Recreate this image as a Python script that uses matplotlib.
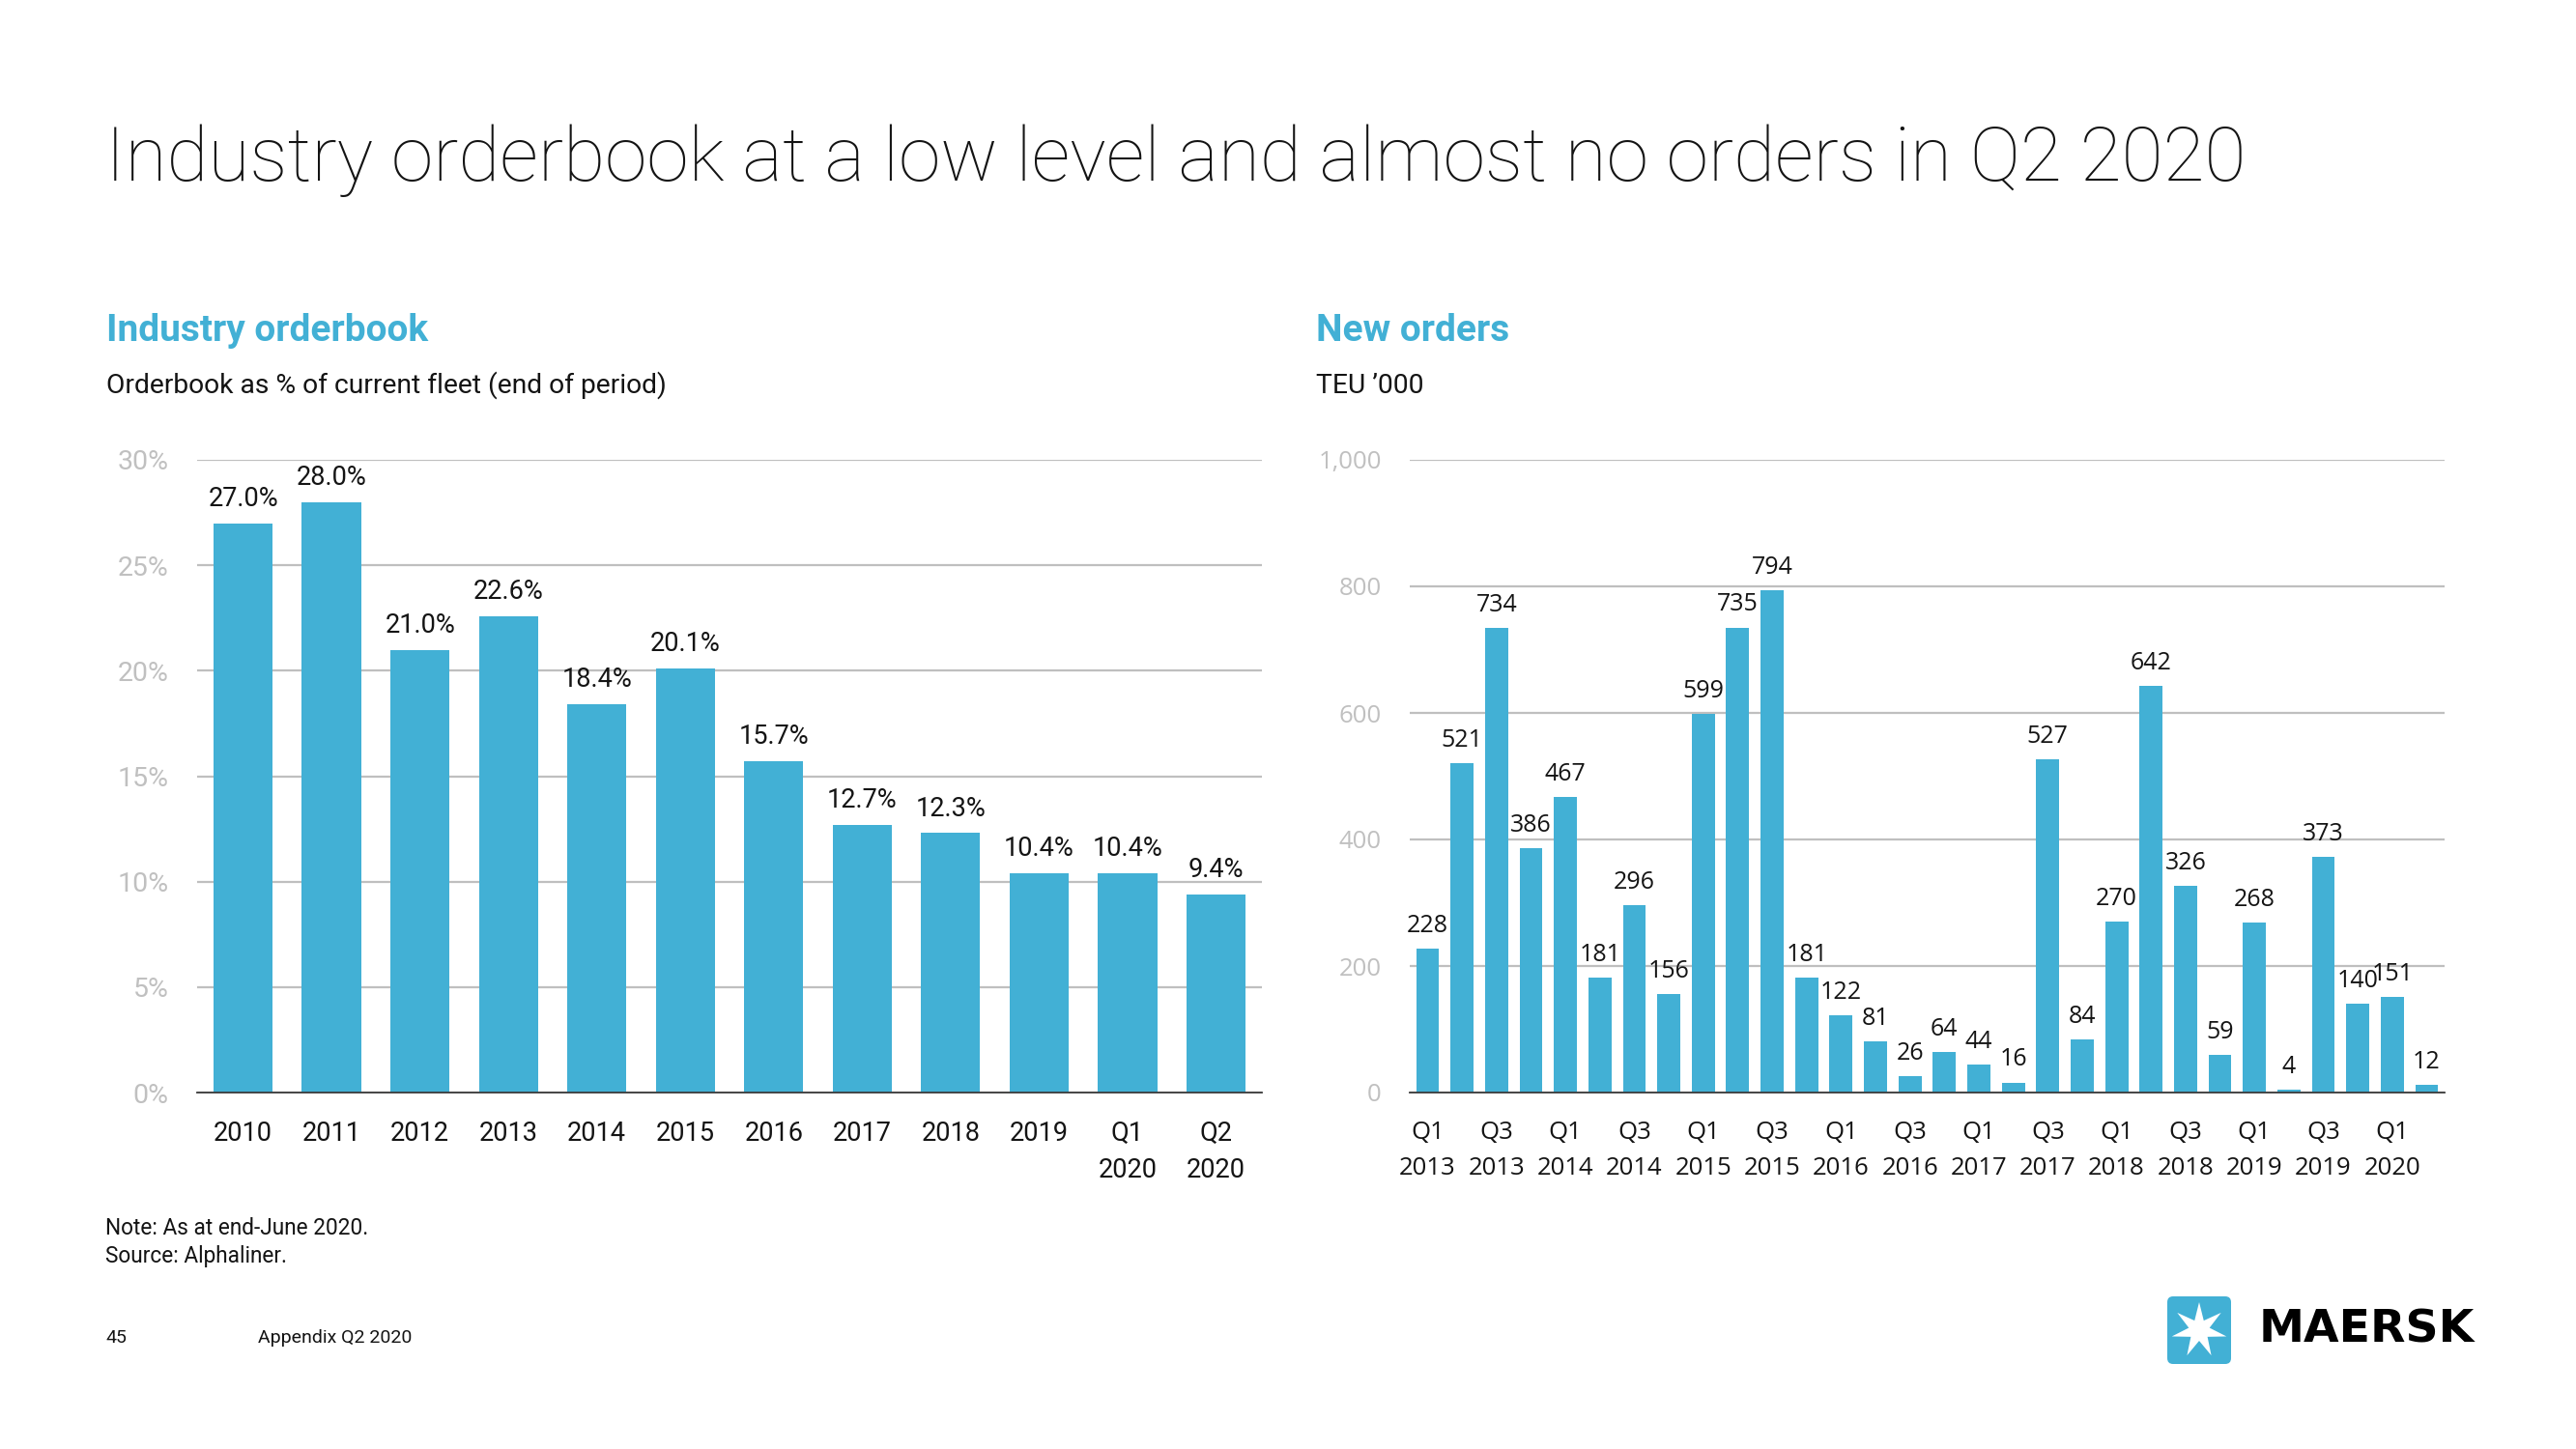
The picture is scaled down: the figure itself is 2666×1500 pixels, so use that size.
import numpy as np
import matplotlib.pyplot as plt
from matplotlib.patches import FancyBboxPatch, Polygon

# Left chart: industry orderbook, % of current fleet (end of period)
periods = ['2010', '2011', '2012', '2013', '2014', '2015', '2016', '2017',
           '2018', '2019', 'Q1\n2020', 'Q2\n2020']
orderbook_pct = [27.0, 28.0, 21.0, 22.6, 18.4, 20.1, 15.7, 12.7, 12.3, 10.4, 10.4, 9.4]
pct_ticks = [0, 5, 10, 15, 20, 25, 30]
pct_tick_labels = ['0%', '5%', '10%', '15%', '20%', '25%', '30%']

# Right chart: new orders, TEU '000 per quarter (Q1 2013 .. Q2 2020)
new_orders = [228, 521, 734, 386, 467, 181, 296, 156, 599, 735, 794, 181, 122, 81,
              26, 64, 44, 16, 527, 84, 270, 642, 326, 59, 268, 4, 373, 140, 151, 12]
quarter_labels = ['Q1\n2013', 'Q3\n2013', 'Q1\n2014', 'Q3\n2014', 'Q1\n2015',
                  'Q3\n2015', 'Q1\n2016', 'Q3\n2016', 'Q1\n2017', 'Q3\n2017',
                  'Q1\n2018', 'Q3\n2018', 'Q1\n2019', 'Q3\n2019', 'Q1\n2020']
teu_ticks = [0, 200, 400, 600, 800, 1000]
teu_tick_labels = ['0', '200', '400', '600', '800', '1,000']

BLUE = '#42B0D5'
DARK = '#141414'
GRID = '#BFBFBF'
TICKGREY = '#C0C0C0'
TXT = 'Roboto'
NUM = 'Open Sans'

fig = plt.figure(figsize=(26.66, 15), dpi=100)
fig.patch.set_facecolor('white')

W, H = 2666, 1500


def fx(px):
    return px / W


def fy(py):
    return 1 - py / H


# Titles
fig.text(fx(109), fy(187), 'Industry orderbook at a low level and almost no orders in Q2 2020',
         fontsize=56.5, color=DARK, family=TXT, weight='light', va='baseline')
fig.text(fx(110), fy(353), 'Industry orderbook', fontsize=28, color=BLUE,
         family=TXT, weight='bold', va='baseline')
fig.text(fx(110), fy(407), 'Orderbook as % of current fleet (end of period)',
         fontsize=20.3, color=DARK, family=TXT, va='baseline')
fig.text(fx(1362), fy(353), 'New orders', fontsize=28, color=BLUE,
         family=TXT, weight='bold', va='baseline')
fig.text(fx(1362), fy(407), 'TEU \u2019000', fontsize=20.3, color=DARK,
         family=TXT, va='baseline')

ax1 = fig.add_axes([fx(204), fy(1131), fx(1306 - 204), (1131 - 476) / H])
ax2 = fig.add_axes([fx(1459), fy(1131), fx(2530 - 1459), (1131 - 476) / H])


def style(ax):
    for s in ('top', 'right', 'left'):
        ax.spines[s].set_visible(False)
    ax.spines['bottom'].set_color('#3A3A3A')
    ax.spines['bottom'].set_linewidth(1.3)
    ax.spines['bottom'].set_zorder(4)
    ax.grid(axis='y', color=GRID, linewidth=1.6, zorder=0)
    ax.set_axisbelow(True)
    ax.tick_params(axis='both', length=0)
    ax.tick_params(axis='y', pad=21, labelcolor=TICKGREY)
    ax.tick_params(axis='x', pad=21, labelcolor=DARK)


# Left chart
x1 = np.arange(len(orderbook_pct))
ax1.bar(x1, orderbook_pct, width=0.67, color=BLUE, zorder=3)
ax1.set_xlim(-0.52, len(orderbook_pct) - 0.48)
ax1.set_ylim(0, 30)
ax1.set_yticks(pct_ticks)
ax1.set_yticklabels(pct_tick_labels, family=TXT, fontsize=20.5)
ax1.set_xticks(x1)
ax1.set_xticklabels(periods, family=TXT, fontsize=19.5, linespacing=1.5, va='top')
style(ax1)
for i, v in enumerate(orderbook_pct):
    ax1.annotate(f'{v:.1f}%', (i, v), xytext=(0, 8.5), textcoords='offset points',
                 ha='center', va='bottom', fontsize=19.5, family=TXT, color=DARK)

# Right chart
x2 = np.arange(len(new_orders))
ax2.bar(x2, new_orders, width=0.67, color=BLUE, zorder=3)
ax2.set_xlim(-0.52, len(new_orders) - 0.48)
ax2.set_ylim(0, 1000)
ax2.set_yticks(teu_ticks)
ax2.set_yticklabels(teu_tick_labels, family=NUM, fontsize=18.5)
ax2.set_xticks(x2[::2])
ax2.set_xticklabels(quarter_labels, family=NUM, fontsize=18.5, linespacing=1.6, va='top')
style(ax2)
for i, v in enumerate(new_orders):
    ax2.annotate(f'{v}', (i, v), xytext=(0, 8), textcoords='offset points',
                 ha='center', va='bottom', fontsize=18, family=NUM, color=DARK)

# Footnotes
fig.text(fx(109), fy(1272), 'Note: As at end-June 2020.', fontsize=16.3, color=DARK,
         family=TXT, va='center')
fig.text(fx(109), fy(1301), 'Source: Alphaliner.', fontsize=16.3, color=DARK,
         family=TXT, va='center')
fig.text(fx(109), fy(1385), '45', fontsize=14, color=DARK, family=TXT, va='center')
fig.text(fx(267), fy(1385), 'Appendix Q2 2020', fontsize=14, color=DARK,
         family=TXT, va='center')

# Logo
lax = fig.add_axes([fx(2243), fy(1412), fx(66), 70 / H])
lax.set_xlim(0, 66)
lax.set_ylim(0, 70)
lax.axis('off')
lax.add_patch(FancyBboxPatch((0, 0), 66, 70, boxstyle='round,pad=0,rounding_size=6',
                             facecolor=BLUE, edgecolor='none'))
ang = np.pi / 2 + np.arange(14) * np.pi / 7
rad = np.where(np.arange(14) % 2 == 0, 29, 11)
lax.add_patch(Polygon(np.column_stack([33 + rad * np.cos(ang), 35 + rad * np.sin(ang)]),
                      closed=True, facecolor='white', edgecolor='none'))
fig.text(fx(2338), fy(1377), 'MAERSK', fontsize=34, weight='bold', color='black',
         family='DejaVu Sans', va='center')

fig.savefig('out.png', dpi=100)
